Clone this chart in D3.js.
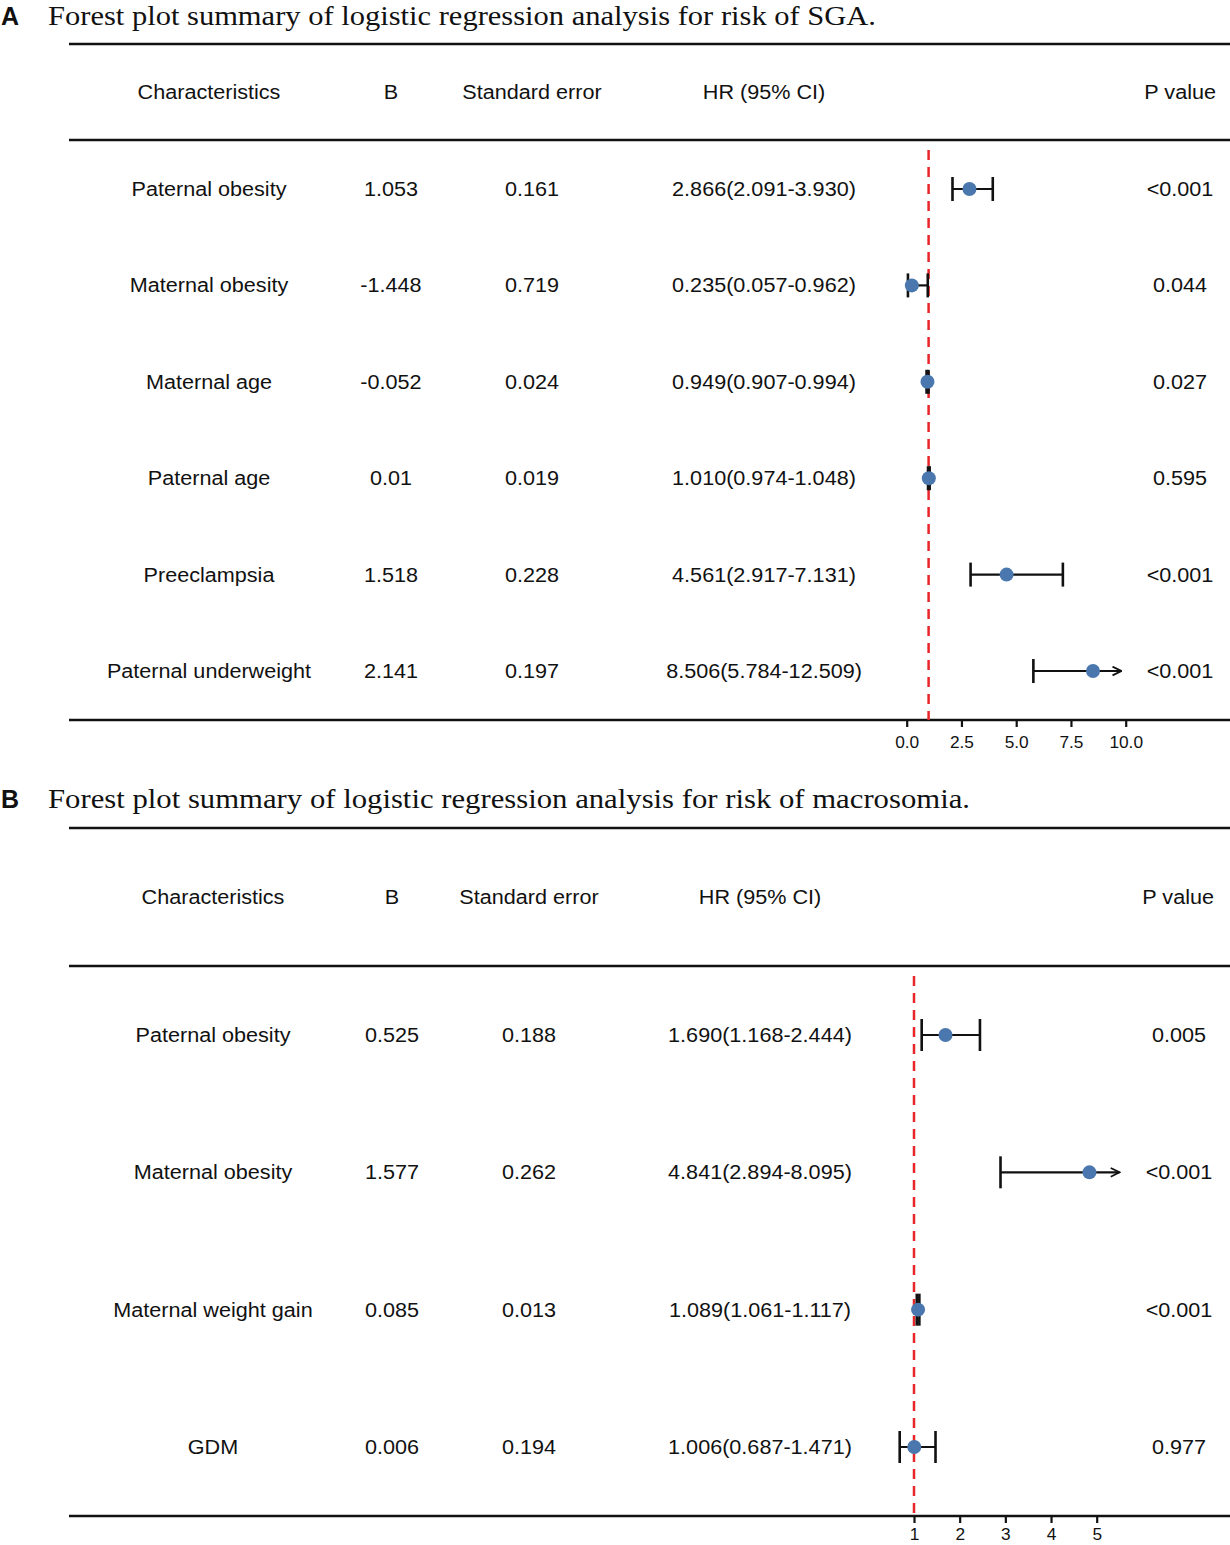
<!DOCTYPE html>
<html>
<head>
<meta charset="utf-8">
<script src="https://d3js.org/d3.v7.min.js"></script>
<style>
  body { margin: 0; background: #fff; }
  svg text { font-family: "Liberation Sans", Arial, sans-serif; fill: #111; }
</style>
</head>
<body>
<div id="chart"></div>
<script>
// panel A: SGA
const SGA_CHARS = ["Paternal obesity", "Maternal obesity", "Maternal age", "Paternal age", "Preeclampsia", "Paternal underweight"];
const SGA_B = ["1.053", "-1.448", "-0.052", "0.01", "1.518", "2.141"];
const SGA_SE = ["0.161", "0.719", "0.024", "0.019", "0.228", "0.197"];
const SGA_HR = [2.866, 0.235, 0.949, 1.010, 4.561, 8.506];
const SGA_LO = [2.091, 0.057, 0.907, 0.974, 2.917, 5.784];
const SGA_HI = [3.930, 0.962, 0.994, 1.048, 7.131, 12.509];
const SGA_HR_TXT = ["2.866(2.091-3.930)", "0.235(0.057-0.962)", "0.949(0.907-0.994)", "1.010(0.974-1.048)", "4.561(2.917-7.131)", "8.506(5.784-12.509)"];
const SGA_P = ["<0.001", "0.044", "0.027", "0.595", "<0.001", "<0.001"];
const SGA_TICKS = [0, 2.5, 5, 7.5, 10];
const SGA_CLIP = 9.8;

// panel B: macrosomia
const MAC_CHARS = ["Paternal obesity", "Maternal obesity", "Maternal weight gain", "GDM"];
const MAC_B = ["0.525", "1.577", "0.085", "0.006"];
const MAC_SE = ["0.188", "0.262", "0.013", "0.194"];
const MAC_HR = [1.690, 4.841, 1.089, 1.006];
const MAC_LO = [1.168, 2.894, 1.061, 0.687];
const MAC_HI = [2.444, 8.095, 1.117, 1.471];
const MAC_HR_TXT = ["1.690(1.168-2.444)", "4.841(2.894-8.095)", "1.089(1.061-1.117)", "1.006(0.687-1.471)"];
const MAC_P = ["0.005", "<0.001", "<0.001", "0.977"];
const MAC_TICKS = [1, 2, 3, 4, 5];
const MAC_CLIP = 5.5;

const HEADERS = ["Characteristics", "B", "Standard error", "HR (95% CI)", "P value"];

const WIDTH = 1230, HEIGHT = 1545;
const LEFT = 69, RIGHT = 1230;
const DOT = "#4a77ad";
const STRETCH = 1.08;   // source text is a bit wider than Liberation Sans

const svg = d3.select("#chart").append("svg")
  .attr("width", WIDTH).attr("height", HEIGHT);

// open arrow head for clipped intervals
svg.append("defs").append("marker")
  .attr("id", "arrow")
  .attr("viewBox", "0 0 10 10")
  .attr("refX", 9).attr("refY", 5)
  .attr("markerWidth", 5).attr("markerHeight", 5)
  .attr("markerUnits", "strokeWidth")
  .attr("orient", "auto")
  .append("path")
    .attr("d", "M1,1 L9,5 L1,9")
    .attr("fill", "none")
    .attr("stroke", "#111")
    .attr("stroke-width", 1.6);

// widen text horizontally
function widen(sel) {
  sel.each(function() {
    const w = this.getComputedTextLength();
    d3.select(this).attr("textLength", w * STRETCH).attr("lengthAdjust", "spacingAndGlyphs");
  });
}

function drawPanel(p) {
  const g = svg.append("g");

  // panel letter + title
  g.append("text").attr("x", 1).attr("y", p.titleY)
    .style("font-weight", "bold").style("font-size", "25px")
    .text(p.letter);
  g.append("text").attr("x", 48).attr("y", p.titleY)
    .style("font-family", "'Liberation Serif', 'DejaVu Serif', serif")
    .style("font-size", "27px")
    .attr("textLength", p.titleLen).attr("lengthAdjust", "spacingAndGlyphs")
    .text(p.title);

  // rules
  [p.topLine, p.headLine, p.axisY].forEach(y => {
    g.append("line").attr("x1", LEFT).attr("x2", RIGHT)
      .attr("y1", y).attr("y2", y)
      .attr("stroke", "#111").attr("stroke-width", 2.5);
  });

  // header
  const cols = p.cols;
  HEADERS.forEach((h, i) => {
    const t = g.append("text").attr("y", p.headY).attr("dy", "0.35em")
      .style("font-size", "20px").text(h);
    if (i === 4) t.attr("x", p.pRight).attr("text-anchor", "end");
    else t.attr("x", cols[i]).attr("text-anchor", "middle");
    widen(t);
  });

  const n = p.chars.length;
  const Y = d3.scalePoint().domain(d3.range(n)).range([p.row0, p.rowN]);
  const X = d3.scaleLinear().domain(p.domain).range(p.range);

  // text columns
  const columns = [p.chars, p.b, p.se, p.hrTxt, p.pv];
  columns.forEach((arr, ci) => {
    g.selectAll(null).data(arr).enter().append("text")
      .attr("x", cols[ci]).attr("y", (d, i) => Y(i)).attr("dy", "0.35em")
      .attr("text-anchor", "middle")
      .style("font-size", "20px")
      .text(d => d)
      .call(widen);
  });

  // reference line at HR = 1
  g.append("line")
    .attr("x1", X(1)).attr("x2", X(1))
    .attr("y1", p.headLine + 10).attr("y2", p.axisY)
    .attr("stroke", "#e8262a").attr("stroke-width", 2.5)
    .attr("stroke-dasharray", "10,7");

  // intervals
  const rows = d3.range(n).map(i => ({
    i: i, hr: p.hr[i], lo: p.lo[i], hi: p.hi[i], clipped: p.hi[i] > p.clip
  }));

  const ci = g.selectAll(".ci").data(rows).enter().append("g").attr("class", "ci");
  ci.append("line")
    .attr("x1", d => X(d.lo))
    .attr("x2", d => X(d.clipped ? p.clip : d.hi))
    .attr("y1", d => Y(d.i)).attr("y2", d => Y(d.i))
    .attr("stroke", "#111").attr("stroke-width", 2.2)
    .attr("marker-end", d => d.clipped ? "url(#arrow)" : null);
  ci.append("line")
    .attr("x1", d => X(d.lo)).attr("x2", d => X(d.lo))
    .attr("y1", d => Y(d.i) - p.cap).attr("y2", d => Y(d.i) + p.cap)
    .attr("stroke", "#111").attr("stroke-width", 2.6);
  ci.filter(d => !d.clipped).append("line")
    .attr("x1", d => X(d.hi)).attr("x2", d => X(d.hi))
    .attr("y1", d => Y(d.i) - p.cap).attr("y2", d => Y(d.i) + p.cap)
    .attr("stroke", "#111").attr("stroke-width", 2.6);
  ci.append("circle")
    .attr("cx", d => X(d.hr)).attr("cy", d => Y(d.i))
    .attr("r", 7).attr("fill", DOT);

  // axis
  const axis = g.append("g")
    .attr("transform", "translate(0," + p.axisY + ")")
    .call(d3.axisBottom(X).tickValues(p.ticks).tickSize(7).tickPadding(p.pad)
      .tickFormat(p.fmt));
  axis.select(".domain").remove();
  axis.selectAll(".tick line").attr("stroke", "#111").attr("stroke-width", 2.2);
  axis.selectAll(".tick text")
    .style("font-family", "'Liberation Sans', Arial, sans-serif")
    .style("font-size", "16px").attr("fill", "#111")
    .call(widen);
}

drawPanel({
  letter: "A",
  title: "Forest plot summary of logistic regression analysis for risk of SGA.",
  titleY: 25, titleLen: 828,
  topLine: 44, headY: 92, headLine: 140, axisY: 720,
  row0: 189, rowN: 671,
  cols: [209, 391, 532, 764, 1180], pRight: 1216,
  chars: SGA_CHARS, b: SGA_B, se: SGA_SE, hrTxt: SGA_HR_TXT, pv: SGA_P,
  hr: SGA_HR, lo: SGA_LO, hi: SGA_HI, clip: SGA_CLIP,
  domain: [0, 10], range: [906.7, 1125.7],
  ticks: SGA_TICKS, fmt: d3.format(".1f"), cap: 12, pad: 10
});

drawPanel({
  letter: "B",
  title: "Forest plot summary of logistic regression analysis for risk of macrosomia.",
  titleY: 808, titleLen: 922,
  topLine: 828, headY: 897, headLine: 966, axisY: 1516,
  row0: 1035, rowN: 1447,
  cols: [213, 392, 529, 760, 1179], pRight: 1214,
  chars: MAC_CHARS, b: MAC_B, se: MAC_SE, hrTxt: MAC_HR_TXT, pv: MAC_P,
  hr: MAC_HR, lo: MAC_LO, hi: MAC_HI, clip: MAC_CLIP,
  domain: [1, 5], range: [914, 1096.7],
  ticks: MAC_TICKS, fmt: d3.format("d"), cap: 16, pad: 6
});
</script>
</body>
</html>
